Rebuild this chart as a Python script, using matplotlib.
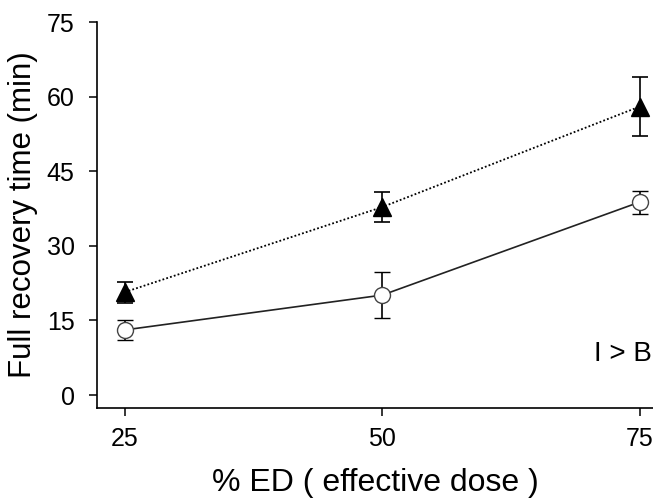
import matplotlib
matplotlib.use("Agg")
import matplotlib.pyplot as plt

# valeurs
doses = [25, 50, 75]
moy_triangle = [20.7, 37.8, 58.0]
err_triangle = [2.1, 3.1, 6.0]
moy_cercle = [13.1, 20.1, 38.8]
err_cercle = [2.0, 4.6, 2.3]

plt.rcParams['font.family'] = ['Liberation Sans', 'DejaVu Sans']

fig = plt.figure(figsize=(6.53, 5.01), dpi=100)
ax = fig.add_axes([0.1485, 0.1856, 0.8515, 0.7704])

# série pointillée (triangles)
ax.errorbar(doses, moy_triangle, yerr=err_triangle, color="black",
            linestyle=(0, (1, 1.2)), linewidth=1.3, marker="^", markersize=13,
            markerfacecolor="black", markeredgecolor="black",
            ecolor="black", elinewidth=1.2, capsize=6, capthick=1.2, zorder=3)

# série pleine (cercles)
ax.errorbar(doses, moy_cercle, yerr=err_cercle, color="#222222",
            linestyle="-", linewidth=1.2, marker="o", markersize=11.5,
            markerfacecolor="white", markeredgecolor="#444444", markeredgewidth=1.0,
            ecolor="black", elinewidth=1.2, capsize=6, capthick=1.2, zorder=3)

ax.set_xlim(22.3, 76.3)
ax.set_ylim(-2.6, 75)
ax.set_xticks(doses)
ax.set_yticks([0, 15, 30, 45, 60, 75])
ax.tick_params(direction="out", length=6, width=1.1, labelsize=18, pad=8)
ax.tick_params(axis="y", pad=10)

for s in ["top", "right"]:
    ax.spines[s].set_visible(False)
for s in ["left", "bottom"]:
    ax.spines[s].set_linewidth(1.2)

ax.set_xlabel("% ED ( effective dose )", fontsize=23, labelpad=12)
ax.set_ylabel("Full recovery time (min)", fontsize=22.5, labelpad=6)

ax.text(0.998, 0.14, "I > B", transform=ax.transAxes, ha="right", va="center", fontsize=20)

# titre coupé en haut de l'image
fig.text(0.205, 1.015, "p", fontsize=23, fontweight="bold", va="baseline")

fig.savefig("out.png", dpi=100)
